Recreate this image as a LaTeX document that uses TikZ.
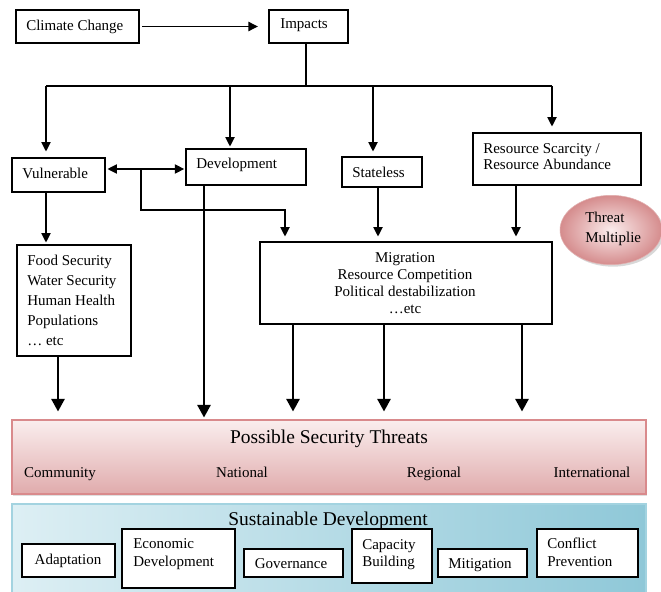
\documentclass[tikz,border=0pt]{standalone}
\usepackage{fontspec}
\setmainfont{Liberation Serif}
\usetikzlibrary{arrows.meta,fit,shapes.geometric,shadows}
\definecolor{pstTop}{HTML}{FAEEEE}
\definecolor{pstBot}{HTML}{E0ABAC}
\definecolor{pstLine}{HTML}{D98A8C}
\definecolor{susL}{HTML}{DDEFF4}
\definecolor{susR}{HTML}{8FC8D8}
\definecolor{susLine}{HTML}{A3D3E0}
\definecolor{elIn}{HTML}{FBECEC}
\definecolor{elOut}{HTML}{D58C8D}
\begin{document}
\begin{tikzpicture}[x=0.75pt,y=-0.75pt,
  box/.style={draw=black, line width=0.8pt, inner sep=0pt},
  wbox/.style={box, fill=white},
  txt/.style={font=\fontsize{11.25}{15}\selectfont, inner sep=0pt},
  big/.style={font=\fontsize{14.6}{17}\selectfont, inner sep=0pt},
  arr/.style={line width=0.8pt, -{Triangle[width=7pt,length=7pt]}},
  arrb/.style={line width=0.8pt, {Triangle[width=7pt,length=7pt]}-{Triangle[width=7pt,length=7pt]}},
  tarr/.style={line width=1.5pt, -{Triangle[width=10pt,length=9.5pt]}},
  ln/.style={line width=0.8pt}
]
\useasboundingbox (0,0) rectangle (661,592);
\fill[white] (0,0) rectangle (661,592);

% top row
\node[box, fit={(16,10)(139,43)}] (cc) {};
\node[txt, anchor=base west] (cct) at (26,31) {Climate Change};
\node[box, fit={(269,10)(348,43)}] (imp) {};
\node[txt, anchor=base west] (impt) at (280,29) {Impacts};
\draw[arr, shorten <=2pt, shorten >=8pt] (cc) -- (imp);

% second row boxes
\node[box, fit={(12,158)(105,192)}] (vul) {};
\node[txt, anchor=base west] (vult) at (22,179) {Vulnerable};
\node[box, fit={(186,149)(306,185)}] (dev) {};
\node[txt, anchor=base west] (devt) at (196,168) {Development};
\node[box, fit={(342,157)(422,187)}] (st) {};
\node[txt, anchor=base west] (stt) at (352,177) {Stateless};
\node[box, fit={(473,133)(641,185)}] (res) {};
\node[txt, anchor=west, align=left, font=\fontsize{11.25}{12}\selectfont] (rest) at (483,157) {Resource Scarcity /\\Resource Abundance};

% tree from impacts
\coordinate (j) at (306,86);
\coordinate (h1) at (46,86);
\coordinate (h2) at (230,86);
\coordinate (h3) at (373,86);
\coordinate (h4) at (552,86);
\draw[ln] (j |- imp.south) -- (j);
\draw[ln] (h1) -- (h4);
\draw[arr, shorten >=4.5pt] (h1) -- (h1 |- vul.north);
\draw[arr, shorten >=1.5pt] (h2) -- (h2 |- dev.north);
\draw[arr, shorten >=3.75pt] (h3) -- (h3 |- st.north);
\draw[arr, shorten >=4.5pt] (h4) -- (h4 |- res.north);

% third row
\node[box, fit={(17,245)(131,356)}] (food) {};
\node[txt, anchor=west, align=left] (foodt) at (27,300) {Food Security\\Water Security\\Human Health\\Populations\\\dots\ etc};
\node[box, fit={(260,242)(552,324)}] (mig) {};
\node[txt, align=center, font=\fontsize{11.25}{12.75}\selectfont] (migt) at (405,283) {Migration\\Resource Competition\\Political destabilization\\\dots etc};

% threat multiplier ellipse
\node[ellipse, minimum width=76.5pt, minimum height=52pt, inner color=elIn, outer color=elOut, draw=elOut!70, line width=0.4pt, drop shadow={shadow xshift=1.5pt, shadow yshift=-1.5pt, opacity=0.3}] (tm) at (611,230) {};
\node[txt, anchor=west, align=left, font=\fontsize{11.25}{15}\selectfont] (tmt) at (585,229) {Threat\\Multiplie};

% connectors second -> third
\coordinate (d1) at (141,169);
\coordinate (m1) at (285,210);
\coordinate (s1) at (378,200);
\coordinate (r1) at (516,200);
\draw[arrb, shorten <=1.5pt, shorten >=1pt] (vul.east |- d1) -- (dev.west |- d1);
\draw[arr, shorten >=3.75pt] (d1) |- (m1) -- (m1 |- mig.north);
\draw[arr, shorten >=3.75pt] (st.south -| s1) -- (s1 |- mig.north);
\draw[arr, shorten >=3.75pt] (res.south -| r1) -- (r1 |- mig.north);
\draw[arr, shorten >=1.5pt] (vul.south -| h1) -- (h1 |- food.north);

% possible security threats
\node[fit={(12,420)(646,494)}, inner sep=0pt, draw=pstLine, line width=0.8pt, top color=pstTop, bottom color=pstBot, drop shadow={shadow xshift=1pt, shadow yshift=-1.5pt, opacity=0.25}] (pst) {};
\node[big, anchor=base] (pstt) at (329,443) {Possible Security Threats};
\node[txt, anchor=base] (l1) at (60,477) {Community};
\node[txt, anchor=base] (l2) at (242,477) {National};
\node[txt, anchor=base] (l3) at (434,477) {Regional};
\node[txt, anchor=base] (l4) at (592,477) {International};

% thick arrows into pst
\coordinate (f1) at (58,380);
\coordinate (dx) at (204,300);
\coordinate (k1) at (293,380);
\coordinate (k2) at (384,380);
\coordinate (k3) at (522,380);
\draw[tarr, shorten >=6pt] (food.south -| f1) -- (f1 |- pst.north);
\draw[tarr, shorten >=1.5pt] (dev.south -| dx) -- (dx |- pst.north);
\draw[tarr, shorten >=6pt] (mig.south -| k1) -- (k1 |- pst.north);
\draw[tarr, shorten >=6pt] (mig.south -| k2) -- (k2 |- pst.north);
\draw[tarr, shorten >=6pt] (mig.south -| k3) -- (k3 |- pst.north);

% sustainable development
\node[fit={(12,504)(646,600)}, inner sep=0pt, draw=susLine, line width=0.8pt, left color=susL, right color=susR] (sus) {};
\node[big, anchor=base] (sust) at (328,525) {Sustainable Development};

\node[wbox, fit={(22,544)(115,577)}] (ad) {};
\node[txt, anchor=base] (adt) at (68,564) {Adaptation};
\node[wbox, fit={(122,529)(235,588)}] (ec) {};
\node[txt, anchor=west, align=left, font=\fontsize{11.25}{13.5}\selectfont] (ect) at (133,554) {Economic\\Development};
\node[wbox, fit={(244,549)(343,577)}] (gov) {};
\node[txt, anchor=base] (govt) at (291,568) {Governance};
\node[wbox, fit={(352,529)(432,583)}] (cap) {};
\node[txt, anchor=west, align=left, font=\fontsize{11.25}{12.75}\selectfont] (capt) at (362,555) {Capacity\\Building};
\node[wbox, fit={(438,549)(527,577)}] (mit) {};
\node[txt, anchor=base] (mitt) at (480,568) {Mitigation};
\node[wbox, fit={(537,529)(638,577)}] (con) {};
\node[txt, anchor=west, align=left, font=\fontsize{11.25}{13.5}\selectfont] (cont) at (547,552) {Conflict\\Prevention};
\end{tikzpicture}
\end{document}
